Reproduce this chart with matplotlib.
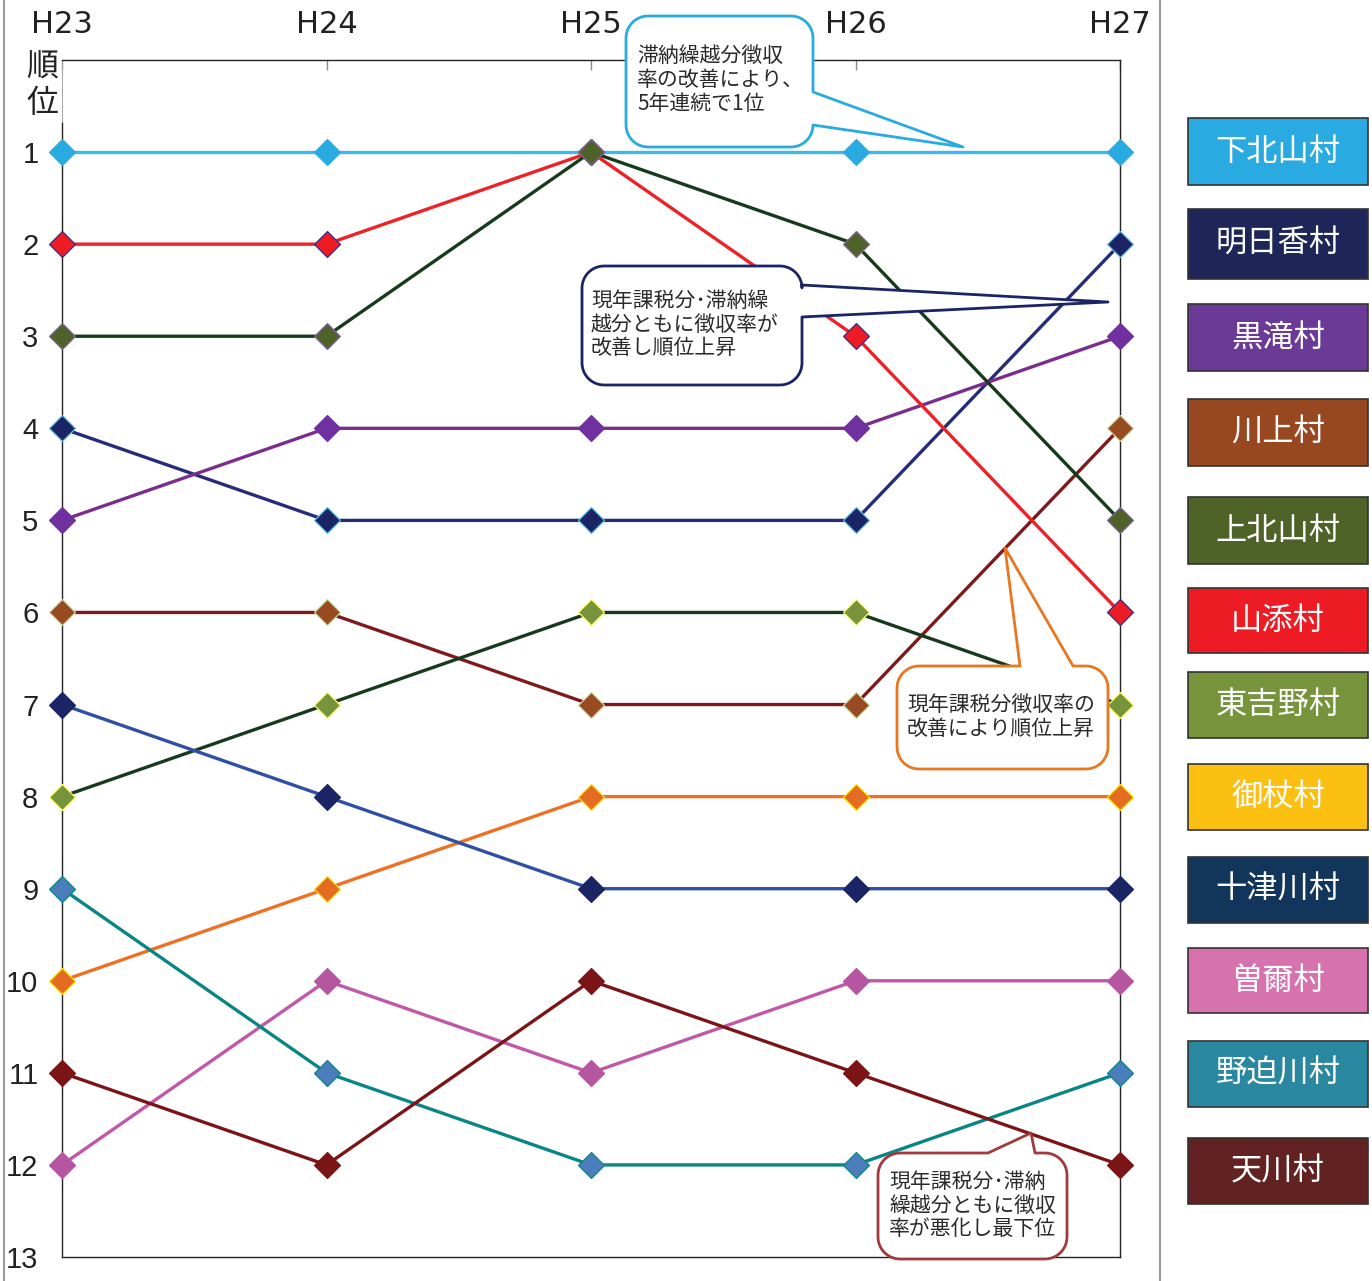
import numpy as np
import matplotlib
matplotlib.use("Agg")
import matplotlib.pyplot as plt
from matplotlib.patches import Polygon, Rectangle

plt.rcParams['font.family'] = ['Noto Sans CJK JP', 'DejaVu Sans']

# ---------------- data ----------------
years = ["H23", "H24", "H25", "H26", "H27"]
villages = ["下北山村", "明日香村", "黒滝村", "川上村", "上北山村", "山添村",
            "東吉野村", "御杖村", "十津川村", "曽爾村", "野迫川村", "天川村"]
rank_shimokitayama = [1, 1, 1, 1, 1]
rank_asuka = [4, 5, 5, 5, 2]
rank_kurotaki = [5, 4, 4, 4, 3]
rank_kawakami = [6, 6, 7, 7, 4]
rank_kamikitayama = [3, 3, 1, 2, 5]
rank_yamazoe = [2, 2, 1, 3, 6]
rank_higashiyoshino = [8, 7, 6, 6, 7]
rank_mitsue = [10, 9, 8, 8, 8]
rank_totsukawa = [7, 8, 9, 9, 9]
rank_soni = [12, 10, 11, 10, 10]
rank_nosegawa = [9, 11, 12, 12, 11]
rank_tenkawa = [11, 12, 10, 11, 12]
rank_ticks = list(range(1, 14))

ranks = [rank_shimokitayama, rank_asuka, rank_kurotaki, rank_kawakami,
         rank_kamikitayama, rank_yamazoe, rank_higashiyoshino, rank_mitsue,
         rank_totsukawa, rank_soni, rank_nosegawa, rank_tenkawa]

# ---------------- styles ----------------
line_colors = ['#3DB8EA', '#262C78', '#7B2C8C', '#7F1A1C', '#183A1C', '#EE2127',
               '#183A1C', '#F07023', '#2F4FA5', '#C157A8', '#0A8585', '#7A1417']
marker_faces = ['#29ABE2', '#1B2566', '#7030A0', '#984A20', '#4F6228', '#ED1C24',
                '#77933C', '#E46C22', '#1B2566', '#B655A0', '#4A7EBB', '#7A1417']
marker_edges = ['#29ABE2', '#5BC0E8', '#7030A0', '#C8D8A0', '#8064A2', '#2E3192',
                '#FFFF66', '#FFE000', '#1B2566', '#B655A0', '#0A8585', '#7A1417']
legend_colors = ['#29ABE2', '#1E2558', '#6A3A96', '#984820', '#4F6228', '#ED1C24',
                 '#77933C', '#FBC012', '#12355B', '#D672AE', '#2A87A0', '#622222']
legend_boxes = [(118, 185), (209, 279), (304, 371), (399, 466), (497, 564), (588, 653),
                (672, 738), (764, 830), (857, 923), (948, 1013), (1041, 1107), (1138, 1204)]

W, H = 1372, 1281
fig = plt.figure(figsize=(W / 100, H / 100), dpi=100)


def fx(px):
    return px / W


def fy(py):
    return 1 - py / H


ax = fig.add_axes([fx(62), fy(1257), fx(1120) - fx(62), fy(60) - fy(1257)])
ax.set_xlim(0, len(years) - 1)
ax.set_ylim(13, 0)

xpos = np.arange(len(years))
for i, r in enumerate(ranks):
    z = 4 if villages[i] == "上北山村" else 3
    ax.plot(xpos, r, color=line_colors[i], lw=2.4, marker='D', ms=13.5,
            mfc=marker_faces[i], mec=marker_edges[i], mew=0.9, clip_on=False, zorder=z)

# spines
for s in ['top', 'right', 'bottom', 'left']:
    ax.spines[s].set_color('#222222')
    ax.spines[s].set_linewidth(1.0)
ax.spines['left'].set_bounds(0.68, 13)
ax.axvline(0, ymin=1 - 0.68 / 13, ymax=1, color='#AAAAAA', lw=0.8, clip_on=False)

ax.xaxis.tick_top()
ax.set_xticks(xpos)
ax.set_xticklabels(years, family=['DejaVu Sans'], fontsize=22, color='#222222')
ax.tick_params(axis='x', direction='in', length=7, color='#888888', width=1, pad=15)
ax.set_yticks(rank_ticks)
ax.set_yticklabels([str(v) for v in rank_ticks],
                   family=['Liberation Sans Narrow', 'Liberation Sans', 'DejaVu Sans'],
                   fontsize=21, color='#222222')
ax.tick_params(axis='y', length=0, pad=17)

fig.text(fx(42), fy(67), "順", fontsize=23, ha='center', va='center', color='#222222')
fig.text(fx(42), fy(103), "位", fontsize=23, ha='center', va='center', color='#222222')

# frame lines
fig.add_artist(plt.Line2D([fx(4), fx(4)], [0, 1], color='#9A9A9A', lw=1.5))
fig.add_artist(plt.Line2D([fx(1160), fx(1160)], [0, 1], color='#9A9A9A', lw=1.5))

# legend boxes
for name, col, (t, b) in zip(villages, legend_colors, legend_boxes):
    fig.add_artist(Rectangle((fx(1188), fy(b)), fx(1368) - fx(1188), fy(t) - fy(b),
                             transform=fig.transFigure, fc=col, ec='#333333', lw=1.2))
    fig.text(fx(1278), fy((t + b) / 2), name, fontsize=22.5, ha='center', va='center',
             color='white')


# callouts
def callout(x0, y0, x1, y1, r, side, a, b, tip, color, lines, tx, ty0, dy):
    pts = []

    def arc(cx, cy, t0, t1):
        for t in np.linspace(np.radians(t0), np.radians(t1), 12):
            pts.append((cx + r * np.cos(t), cy + r * np.sin(t)))

    pts.append((x0 + r, y0))
    if side == 'top':
        pts.extend([(a, y0), tip, (b, y0)])
    pts.append((x1 - r, y0))
    arc(x1 - r, y0 + r, -90, 0)
    if side == 'right':
        pts.extend([(x1, a), tip, (x1, b)])
    pts.append((x1, y1 - r))
    arc(x1 - r, y1 - r, 0, 90)
    pts.append((x0 + r, y1))
    arc(x0 + r, y1 - r, 90, 180)
    pts.append((x0, y0 + r))
    arc(x0 + r, y0 + r, 180, 270)
    fpts = [(fx(p[0]), fy(p[1])) for p in pts]
    poly = Polygon(fpts, closed=True, transform=fig.transFigure, fc='white', ec=color,
                   lw=2.0, zorder=5, joinstyle='round')
    fig.add_artist(poly)
    for k, ln in enumerate(lines):
        fig.text(fx(tx), fy(ty0 + k * dy), ln, fontsize=15, ha='left', va='center',
                 color='#2A2A2A', zorder=6)


callout(626, 16, 813, 147, 22, 'right', 92, 125, (963, 147), '#29ABE2',
        ["滞納繰越分徴収", "率の改善により、", "5年連続で1位"], 637, 56, 24)
callout(582, 266, 802, 385, 22, 'right', 285, 317, (1108, 302), '#1B2566',
        ["現年課税分･滞納繰", "越分ともに徴収率が", "改善し順位上昇"], 591, 301, 23.5)
callout(897, 666, 1108, 769, 22, 'top', 1020, 1073, (1005, 548), '#E87722',
        ["現年課税分徴収率の", "改善により順位上昇"], 907, 705, 24)
callout(878, 1153, 1067, 1259, 22, 'top', 988, 1035, (1031, 1133), '#A03A3C',
        ["現年課税分･滞納", "繰越分ともに徴収", "率が悪化し最下位"], 889, 1182, 23.5)

fig.savefig("out.png", dpi=100, facecolor='white')
